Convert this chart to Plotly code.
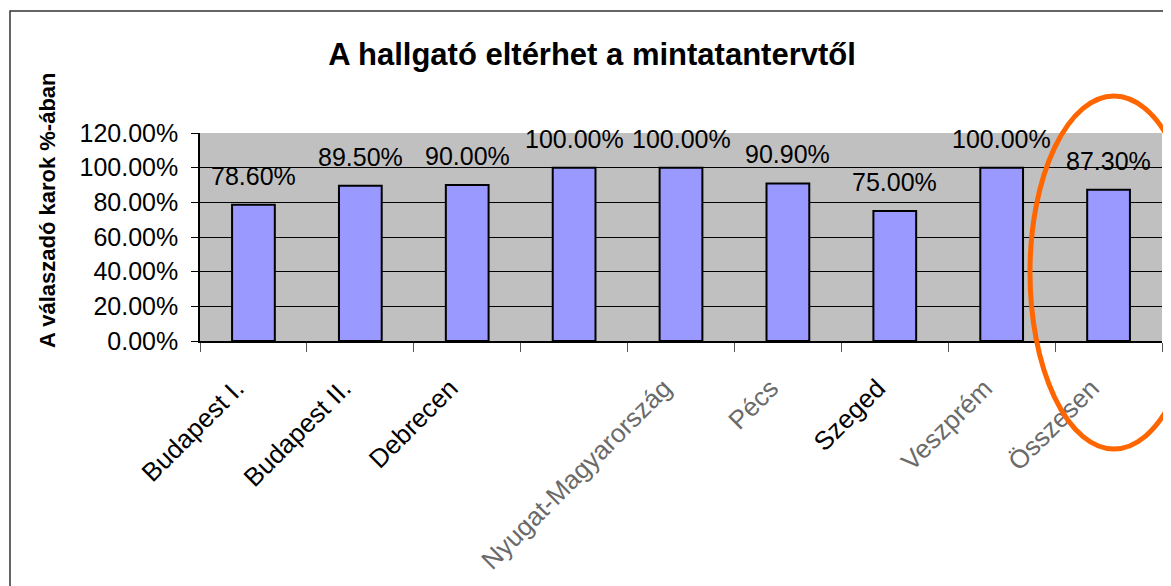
import plotly.graph_objects as go

categories = ["Budapest I.", "Budapest II.", "Debrecen", " ", "Nyugat-Magyarország",
              "Pécs", "Szeged", "Veszprém", "Összesen"]
values = [78.6, 89.5, 90.0, 100.0, 100.0, 90.9, 75.0, 100.0, 87.3]
faded = [False, False, False, False, True, True, False, True, True]
y_ticks = [0, 20, 40, 60, 80, 100, 120]

FONT = "Liberation Sans, Arial, sans-serif"

# page body has an 8px margin; work in screen pixels and subtract it
OFF = 8
W, H = 1171 - OFF, 586 - OFF
L, R, T, B = 200 - OFF, 9, 133 - OFF, 245
PW = W - L - R
PH = H - T - B


def px_x(px):
    return (px - OFF - L) / PW


def px_y(py):
    return (H - B - (py - OFF)) / PH


ticktext = [f"<span style='color:#6a6a6a'>{c}</span>" if f else c
            for c, f in zip(categories, faded)]

fig = go.Figure()
fig.add_trace(go.Bar(
    x=categories, y=values,
    marker=dict(color="#9999FF", line=dict(color="black", width=2)),
    width=0.4,
    hoverinfo="x+y",
))

for c, v in zip(categories, values):
    fig.add_annotation(x=c, y=v, xref="x", yref="y", text=f"{v:.2f}%",
                       showarrow=False, yanchor="bottom", yshift=13,
                       font=dict(family=FONT, size=25, color="black"))

fig.update_layout(
    width=W, height=H,
    margin=dict(l=L, r=R, t=T, b=B, autoexpand=False),
    paper_bgcolor="white",
    plot_bgcolor="#C0C0C0",
    showlegend=False,
    font=dict(family=FONT, size=24, color="black"),
    title=dict(text="<b>A hallgató eltérhet a mintatantervtől</b>",
               xref="container", x=(592 - OFF) / W, xanchor="center",
               yref="container", y=1 - (54 - OFF) / H, yanchor="middle",
               font=dict(family=FONT, size=31, color="black")),
    xaxis=dict(type="category", tickson="boundaries",
               tickmode="array", tickvals=categories, ticktext=ticktext,
               tickangle=-45, ticks="outside", ticklen=9, tickcolor="#555",
               showline=True, linecolor="black", linewidth=1.5,
               showgrid=False, ticklabelstandoff=20, ticklabelshift=-17,
               tickfont=dict(family=FONT, size=26, color="black"),
               range=[-0.5, len(categories) - 0.5]),
    yaxis=dict(range=[0, 120], tickmode="array", tickvals=y_ticks,
               ticktext=[f"{v:.2f}%" for v in y_ticks],
               ticks="outside", ticklen=7, tickcolor="black",
               showline=True, linecolor="black", linewidth=1.5,
               showgrid=True, gridcolor="black", gridwidth=1,
               zeroline=False, ticklabelstandoff=8,
               tickfont=dict(family=FONT, size=25, color="black")),
)

# y-axis title
fig.add_annotation(text="<b>A válaszadó karok %-ában</b>", xref="paper", yref="paper",
                   x=px_x(47), y=px_y(210), textangle=-90, showarrow=False,
                   xanchor="center", yanchor="middle",
                   font=dict(family=FONT, size=22, color="black"))

# outer chart border
fig.add_shape(type="rect", xref="paper", yref="paper",
              x0=px_x(10), x1=px_x(1180), y0=px_y(11), y1=px_y(600),
              line=dict(color="#333", width=1.5), fillcolor="rgba(0,0,0,0)", layer="above")

# orange highlight ellipse
fig.add_shape(type="circle", xref="paper", yref="paper",
              x0=px_x(1030), x1=px_x(1198), y0=px_y(449), y1=px_y(96),
              line=dict(color="#FF6600", width=5), fillcolor="rgba(0,0,0,0)", layer="above")

fig.write_html("out.html")
